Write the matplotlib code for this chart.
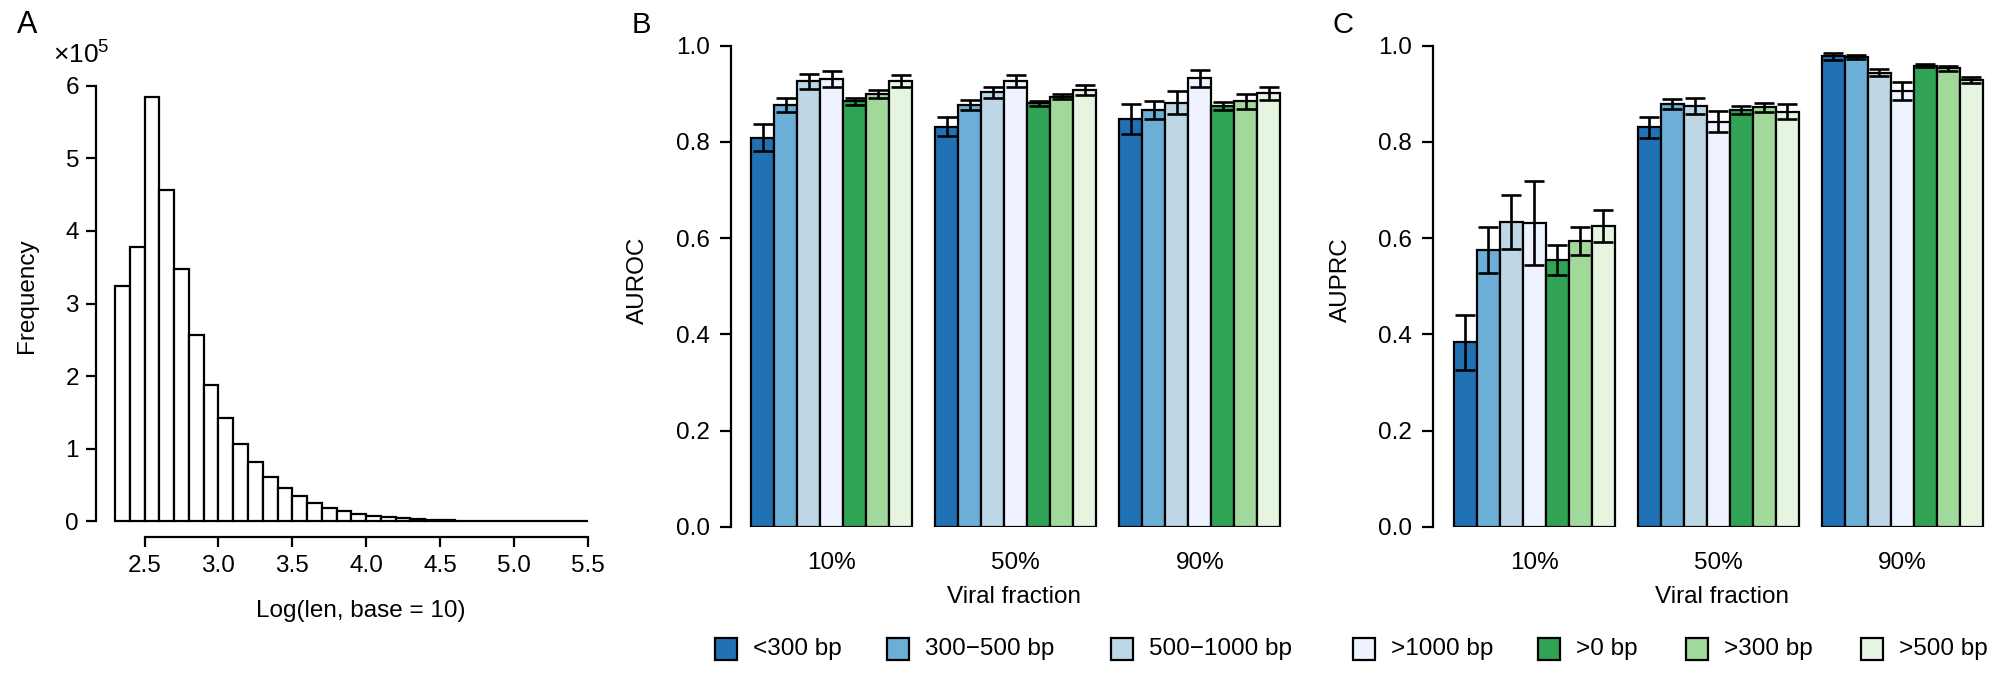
import matplotlib
matplotlib.use('Agg')
import matplotlib.pyplot as plt
from matplotlib.patches import Rectangle
import numpy as np

plt.rcParams['font.family'] = ['Liberation Sans', 'DejaVu Sans']
plt.rcParams['mathtext.fontset'] = 'custom'
plt.rcParams['mathtext.rm'] = 'Liberation Sans'
plt.rcParams['mathtext.it'] = 'Liberation Sans:italic'

W, H, DPI = 1996, 674, 100

# ---------------- data ----------------
# Panel A: histogram of log10(contig length), counts in units of 1e5
bin_edges = [2.3, 2.4, 2.5, 2.6, 2.7, 2.8, 2.9, 3.0, 3.1, 3.2, 3.3, 3.4, 3.5, 3.6, 3.7, 3.8,
             3.9, 4.0, 4.1, 4.2, 4.3, 4.4, 4.5, 4.6, 4.7, 4.8, 4.9, 5.0, 5.1, 5.2, 5.3, 5.4, 5.5]
freq_1e5 = [3.24, 3.78, 5.84, 4.57, 3.47, 2.57, 1.88, 1.42, 1.07, 0.82, 0.61, 0.46, 0.35, 0.25,
            0.19, 0.14, 0.105, 0.075, 0.055, 0.04, 0.03, 0.02, 0.015, 0.01, 0.006, 0.004, 0.003,
            0.002, 0.001, 0.001, 0.0005, 0.0003]
hist_xticks = [2.5, 3.0, 3.5, 4.0, 4.5, 5.0, 5.5]
hist_yticks = [0, 1, 2, 3, 4, 5, 6]

# Panels B/C
fractions = ['10%', '50%', '90%']
series = ['<300 bp', '300\u2212500 bp', '500\u22121000 bp', '>1000 bp', '>0 bp', '>300 bp', '>500 bp']
colors = ['#2171B5', '#6BAED6', '#BDD7E7', '#EFF3FF', '#31A354', '#A1D99B', '#E5F5E0']

auroc_10 = [0.809, 0.877, 0.926, 0.931, 0.884, 0.899, 0.927]
auroc_50 = [0.832, 0.877, 0.903, 0.927, 0.880, 0.894, 0.908]
auroc_90 = [0.848, 0.866, 0.881, 0.932, 0.875, 0.884, 0.901]
auroc_err_10 = [0.028, 0.015, 0.016, 0.017, 0.008, 0.008, 0.013]
auroc_err_50 = [0.019, 0.010, 0.011, 0.013, 0.005, 0.005, 0.010]
auroc_err_90 = [0.031, 0.019, 0.024, 0.018, 0.008, 0.015, 0.013]

auprc_10 = [0.383, 0.575, 0.633, 0.631, 0.554, 0.594, 0.625]
auprc_50 = [0.830, 0.879, 0.875, 0.842, 0.866, 0.872, 0.863]
auprc_90 = [0.978, 0.977, 0.944, 0.906, 0.958, 0.953, 0.929]
auprc_err_10 = [0.058, 0.048, 0.056, 0.087, 0.031, 0.030, 0.033]
auprc_err_50 = [0.021, 0.010, 0.016, 0.022, 0.008, 0.009, 0.015]
auprc_err_90 = [0.007, 0.004, 0.008, 0.018, 0.003, 0.005, 0.006]

bar_yticks = [0.0, 0.2, 0.4, 0.6, 0.8, 1.0]

FS = 17.5
LW = 1.6

fig = plt.figure(figsize=(W / DPI, H / DPI), dpi=DPI)


def add_axes_px(left, right, top, bottom):
    return fig.add_axes([left / W, 1 - bottom / H, (right - left) / W, (bottom - top) / H])


def ftext(x, y, s, **kw):
    return fig.text(x / W, 1 - y / H, s, **kw)


# ---------------- Panel A ----------------
a_left, a_right, a_top, a_bottom = 95.7, 592, 85.7, 521.4
ppu, x25 = 147.6, 144.7
axA = add_axes_px(a_left, a_right, a_top, a_bottom)
axA.bar(bin_edges[:-1], freq_1e5, width=np.diff(bin_edges), align='edge',
        color='white', edgecolor='black', linewidth=LW, clip_on=False)
axA.set_xlim(2.5 - (x25 - a_left) / ppu, 2.5 + (a_right - x25) / ppu)
axA.set_ylim(0, 6)
for s in ['top', 'right']:
    axA.spines[s].set_visible(False)
axA.spines['left'].set_bounds(0, 6)
axA.spines['bottom'].set_bounds(2.5, 5.5)
axA.spines['bottom'].set_position(('outward', 11.5))
for s in ['left', 'bottom']:
    axA.spines[s].set_linewidth(LW)
axA.set_xticks(hist_xticks)
axA.set_xticklabels([f'{v:.1f}' for v in hist_xticks])
axA.set_yticks(hist_yticks)
axA.set_yticklabels([str(v) for v in hist_yticks])
axA.tick_params(axis='both', length=7, width=LW, labelsize=FS)
axA.tick_params(axis='y', pad=5)
axA.tick_params(axis='x', pad=6)
ftext(27, 296, 'Frequency', rotation=90, ha='center', va='center', fontsize=FS)
ftext(361, 611, 'Log(len, base = 10)', ha='center', va='center', fontsize=FS)
ftext(53, 55, r'$\times$10$^{5}$', ha='left', va='center', fontsize=19)
ftext(27, 25, 'A', ha='center', va='center', fontsize=22)


# ---------------- Panels B / C ----------------
def bar_panel(spine_x, first_bar_x, bw, right_x, groups, errs, ylabel, ylabel_x, xlabel_x, letter_x, letter):
    top, bottom = 45.7, 526.7
    ax = add_axes_px(spine_x, right_x, top, bottom)
    for g, (vals, ee) in enumerate(zip(groups, errs)):
        xs = g * (len(series) + 1) + np.arange(len(series)) + 0.5
        ax.bar(xs, vals, width=1.0, color=colors, edgecolor='black', linewidth=LW,
               yerr=ee, capsize=7, error_kw=dict(elinewidth=LW + 0.3, capthick=LW + 0.3, ecolor='black'))
    ax.set_xlim((spine_x - first_bar_x) / bw, (right_x - first_bar_x) / bw)
    ax.set_ylim(0, 1)
    for s in ['top', 'right', 'bottom']:
        ax.spines[s].set_visible(False)
    ax.spines['left'].set_bounds(0, 1)
    ax.spines['left'].set_linewidth(LW)
    ax.set_yticks(bar_yticks)
    ax.set_yticklabels([f'{v:.1f}' for v in bar_yticks])
    centers = [g * (len(series) + 1) + len(series) / 2 for g in range(len(fractions))]
    ax.set_xticks(centers)
    ax.set_xticklabels(fractions)
    ax.tick_params(axis='y', length=8, width=LW, labelsize=FS, pad=7)
    ax.tick_params(axis='x', length=0, labelsize=FS, pad=18)
    ftext(ylabel_x, 280, ylabel, rotation=90, ha='center', va='center', fontsize=FS)
    ftext(xlabel_x, 597, 'Viral fraction', ha='center', va='center', fontsize=FS)
    ftext(letter_x, 25, letter, ha='center', va='center', fontsize=21)
    return ax


bar_panel(731, 751, 23.02, 1300, [auroc_10, auroc_50, auroc_90],
          [auroc_err_10, auroc_err_50, auroc_err_90], 'AUROC', 638, 1014, 641, 'B')
bar_panel(1433, 1454, 22.98, 1996, [auprc_10, auprc_50, auprc_90],
          [auprc_err_10, auprc_err_50, auprc_err_90], 'AUPRC', 1341, 1722, 1343, 'C')

# ---------------- Legend ----------------
leg_x = [715, 887, 1111, 1353, 1538, 1686, 1861]
sq = 22
leg_y = 649
for x, lab, c in zip(leg_x, series, colors):
    fig.patches.append(Rectangle((x / W, 1 - (leg_y + sq / 2) / H), sq / W, sq / H,
                                 facecolor=c, edgecolor='black', linewidth=LW,
                                 transform=fig.transFigure, figure=fig))
    ftext(x + 38, leg_y, lab, ha='left', va='center', fontsize=FS)

fig.savefig('out.png', dpi=DPI)
